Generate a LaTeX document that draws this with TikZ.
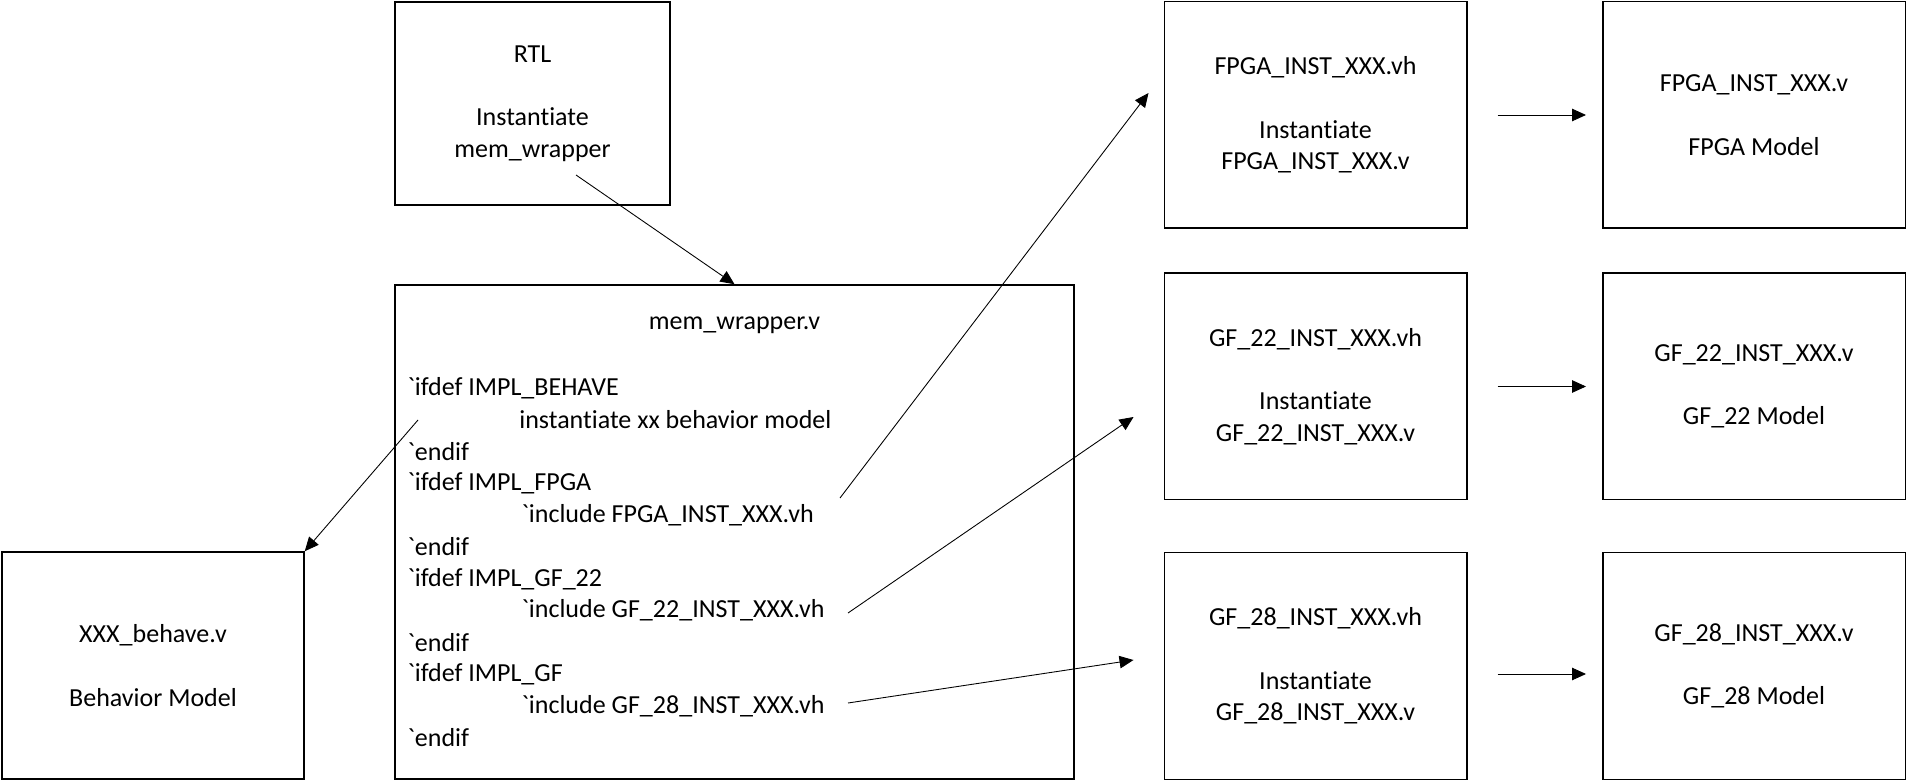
\documentclass[tikz,border=0pt]{standalone}
\usepackage{fontspec}
\setmainfont{Carlito}[Ligatures={NoCommon,NoContextual}]
\usetikzlibrary{arrows.meta}
\newcommand{\bkq}{\textasciigrave}
\tikzset{
	every node/.append style={font=\fontsize{14.8}{18}\selectfont},
	box/.style={draw, line width=0.85pt, align=center, inner sep=0pt},
	cell/.style={box, minimum width=6.05cm, minimum height=4.53cm},
	codeline/.style={anchor=west, inner sep=0pt},
	arr/.style={line width=0.5pt, -{Triangle[length=0.28cm,width=0.25cm]}}
}
\begin{document}
\begin{tikzpicture}
	\useasboundingbox (0,0) rectangle (38.14,15.62);
	% left part
	\node[box, minimum width=5.5cm, minimum height=4.06cm] (rtl) at (10.65,13.55) {RTL\\[0.634cm]Instantiate\\mem\_wrapper};
	\node[box, minimum width=13.58cm, minimum height=9.88cm] (mem) at (14.69,4.98) {};
	\node[box, minimum width=6.04cm, minimum height=4.54cm] (behave) at (3.06,2.31) {XXX\_behave.v\\[0.634cm]Behavior Model};
	\node (memtitle) at (14.69,9.12) {mem\_wrapper.v};
	\node[codeline] (ifbehave) at (8.14,7.86) {\bkq ifdef IMPL\_BEHAVE};
	\node[codeline] (instbehave) at (10.38,7.224) {instantiate xx behavior model};
	\node[codeline] (endbehave) at (8.14,6.588) {\bkq endif};
	\node[codeline] (iffpga) at (8.14,5.952) {\bkq ifdef IMPL\_FPGA};
	\node[codeline] (incfpga) at (10.42,5.316) {\bkq include FPGA\_INST\_XXX.vh};
	\node[codeline] (endfpga) at (8.14,4.68) {\bkq endif};
	\node[codeline] (ifgf22) at (8.14,4.044) {\bkq ifdef IMPL\_GF\_22};
	\node[codeline] (incgf22) at (10.42,3.408) {\bkq include GF\_22\_INST\_XXX.vh};
	\node[codeline] (endgf22) at (8.14,2.772) {\bkq endif};
	\node[codeline] (ifgf28) at (8.14,2.136) {\bkq ifdef IMPL\_GF};
	\node[codeline] (incgf28) at (10.42,1.5) {\bkq include GF\_28\_INST\_XXX.vh};
	\node[codeline] (endgf28) at (8.14,0.864) {\bkq endif};
	% right part
	\node[cell] (fpgavh) at (26.31,13.32) {FPGA\_INST\_XXX.vh\\[0.634cm]Instantiate\\FPGA\_INST\_XXX.v};
	\node[cell] (fpgav) at (35.08,13.32) {FPGA\_INST\_XXX.v\\[0.634cm]FPGA Model};
	\node[cell] (gf22vh) at (26.31,7.89) {GF\_22\_INST\_XXX.vh\\[0.634cm]Instantiate\\GF\_22\_INST\_XXX.v};
	\node[cell] (gf22v) at (35.08,7.89) {GF\_22\_INST\_XXX.v\\[0.634cm]GF\_22 Model};
	\node[cell] (gf28vh) at (26.31,2.30) {GF\_28\_INST\_XXX.vh\\[0.634cm]Instantiate\\GF\_28\_INST\_XXX.v};
	\node[cell] (gf28v) at (35.08,2.30) {GF\_28\_INST\_XXX.v\\[0.634cm]GF\_28 Model};
	% arrows
	\coordinate (rtlout) at (11.52,12.12);
	\coordinate (behaveout) at (8.36,7.22);
	\coordinate (fpgaout) at (16.8,5.66);
	\coordinate (gf22out) at (16.96,3.36);
	\coordinate (gf28out) at (16.96,1.56);
	\draw[arr] (rtlout) -- (mem.north);
	\draw[arr] (behaveout) -- (behave.north east);
	\draw[arr] (fpgaout) -- ([xshift=-0.3cm,yshift=0.44cm]fpgavh.west);
	\draw[arr] (gf22out) -- ([xshift=-0.6cm,yshift=-0.61cm]gf22vh.west);
	\draw[arr] (gf28out) -- ([xshift=-0.6cm,yshift=0.12cm]gf28vh.west);
	\draw[arr] ([xshift=0.6cm]fpgavh.east) -- ([xshift=-0.32cm]fpgav.west);
	\draw[arr] ([xshift=0.6cm]gf22vh.east) -- ([xshift=-0.32cm]gf22v.west);
	\draw[arr] ([xshift=0.6cm,yshift=-0.16cm]gf28vh.east) -- ([xshift=-0.32cm,yshift=-0.16cm]gf28v.west);
\end{tikzpicture}
\end{document}
